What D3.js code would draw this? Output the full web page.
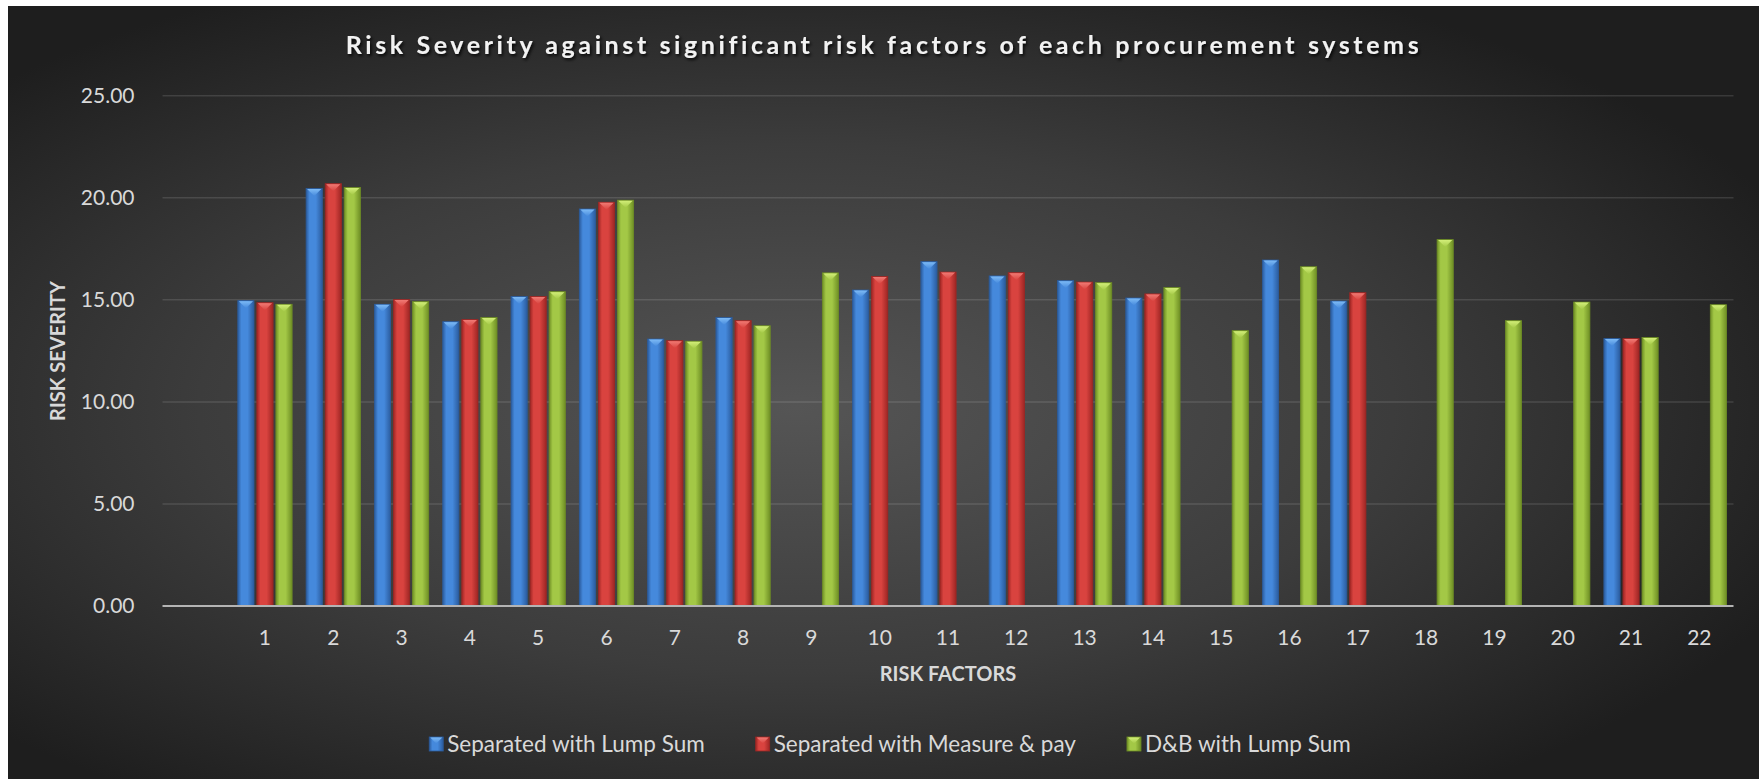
<!DOCTYPE html>
<html>
<head>
<meta charset="utf-8">
<script src="https://cdn.jsdelivr.net/npm/d3@7"></script>
<style>
  html, body { margin: 0; padding: 0; background: #ffffff; }
  svg { display: block; }
  text { font-family: Lato, "Open Sans", "DejaVu Sans", sans-serif; }
</style>
</head>
<body>
<svg id="chart" width="1759" height="779"></svg>
<script>
// Risk factors along the x axis
const riskFactors = ["1","2","3","4","5","6","7","8","9","10","11","12","13","14","15","16","17","18","19","20","21","22"];

// Risk severity per procurement system (null = factor not significant for that system)
const separatedLumpSum = [14.96, 20.45, 14.78, 13.93, 15.16, 19.45, 13.08, 14.13, null, 15.48, 16.87, 16.17, 15.94, 15.09, null, 16.95, 14.94, null, null, null, 13.10, null];
const separatedMeasurePay = [14.86, 20.69, 15.01, 14.03, 15.16, 19.78, 13.00, 13.98, null, 16.14, 16.36, 16.33, 15.87, 15.29, null, null, 15.35, null, null, null, 13.10, null];
const dbLumpSum = [14.78, 20.50, 14.91, 14.13, 15.40, 19.88, 12.97, 13.73, 16.32, null, null, null, 15.84, 15.60, 13.49, 16.62, null, 17.95, 13.98, 14.89, 13.15, 14.76];

const seriesNames = ["Separated with Lump Sum", "Separated with Measure & pay", "D&B with Lump Sum"];
const seriesValues = [separatedLumpSum, separatedMeasurePay, dbLumpSum];
const yTicks = [0, 5, 10, 15, 20, 25];

const chartTitle = "Risk Severity against significant risk factors of each procurement systems";
const yTitle = "RISK SEVERITY";
const xTitle = "RISK FACTORS";

// Palette: [edge, centre, bevel highlight]
const palette = [
  ["#2b5c9e", "#4589dc", "#7dbaf5"],
  ["#9e2624", "#d9433f", "#f07a74"],
  ["#6f8f25", "#a3c846", "#d2ee78"]
];

const W = 1759, H = 779;
const plot = { left: 162.5, right: 1733.5, top: 95.7, bottom: 606 };

const svg = d3.select("#chart");
const defs = svg.append("defs");

// Background vignette
const bg = defs.append("radialGradient").attr("id", "bgGrad")
  .attr("cx", "45%").attr("cy", "52%").attr("r", "62%");
bg.append("stop").attr("offset", "0%").attr("stop-color", "#555555");
bg.append("stop").attr("offset", "55%").attr("stop-color", "#3c3c3c");
bg.append("stop").attr("offset", "100%").attr("stop-color", "#1e1e1e");

// Column shading for each series
palette.forEach((c, i) => {
  const g = defs.append("linearGradient").attr("id", "bar" + i)
    .attr("x1", "0%").attr("x2", "100%").attr("y1", "0%").attr("y2", "0%");
  g.append("stop").attr("offset", "0%").attr("stop-color", c[0]);
  g.append("stop").attr("offset", "22%").attr("stop-color", c[1]);
  g.append("stop").attr("offset", "60%").attr("stop-color", c[1]);
  g.append("stop").attr("offset", "100%").attr("stop-color", c[0]);
  const t = defs.append("linearGradient").attr("id", "cap" + i)
    .attr("x1", "0%").attr("x2", "0%").attr("y1", "0%").attr("y2", "100%");
  t.append("stop").attr("offset", "0%").attr("stop-color", c[2]);
  t.append("stop").attr("offset", "100%").attr("stop-color", c[1]);
});

const shadow = defs.append("filter").attr("id", "titleShadow")
  .attr("x", "-5%").attr("y", "-50%").attr("width", "110%").attr("height", "200%");
shadow.append("feDropShadow").attr("dx", 1.5).attr("dy", 2).attr("stdDeviation", 1.5)
  .attr("flood-color", "#000").attr("flood-opacity", 0.85);

svg.append("rect").attr("x", 8).attr("y", 6).attr("width", W - 8).attr("height", H - 6)
  .attr("fill", "url(#bgGrad)");

// Scales: one empty leading slot before factor 1
const x0 = d3.scaleBand().domain([""].concat(riskFactors))
  .range([plot.left, plot.right]).paddingInner(0.205).paddingOuter(0.1025);
const x1 = d3.scaleBand().domain(d3.range(seriesNames.length))
  .range([0, x0.bandwidth()]).paddingInner(0.15);
const y = d3.scaleLinear().domain([0, 25]).range([plot.bottom, plot.top]);

// Gridlines
svg.append("g").selectAll("line").data(yTicks.filter(d => d > 0)).join("line")
  .attr("x1", plot.left).attr("x2", plot.right)
  .attr("y1", d => y(d)).attr("y2", d => y(d))
  .attr("stroke", "#ffffff").attr("stroke-opacity", 0.12).attr("stroke-width", 1.5);

// Y axis labels
const yAxis = svg.append("g").attr("transform", `translate(${plot.left},0)`)
  .call(d3.axisLeft(y).tickValues(yTicks).tickFormat(d3.format(".2f")).tickSize(0).tickPadding(28));
yAxis.select(".domain").remove();
yAxis.selectAll("text").attr("fill", "#d9d9d9").attr("font-size", 21)
  .style("font-family", "Lato, sans-serif");

// Bars
const bars = [];
riskFactors.forEach((f, i) => {
  seriesValues.forEach((vals, s) => {
    if (vals[i] != null) bars.push({ factor: f, series: s, value: vals[i] });
  });
});

const barG = svg.append("g").selectAll("g").data(bars).join("g");
barG.append("rect")
  .attr("x", d => x0(d.factor) + x1(d.series))
  .attr("y", d => y(d.value))
  .attr("width", x1.bandwidth())
  .attr("height", d => y(0) - y(d.value))
  .attr("fill", d => `url(#bar${d.series})`)
  .attr("stroke", d => palette[d.series][0]).attr("stroke-width", 0.8);
barG.append("path")
  .attr("d", d => {
    const bx = x0(d.factor) + x1(d.series), by = y(d.value), bw = x1.bandwidth();
    return `M${bx + 1},${by + 0.5}L${bx + bw - 1},${by + 0.5}L${bx + bw / 2},${by + 7.5}Z`;
  })
  .attr("fill", d => `url(#cap${d.series})`);

// Baseline
svg.append("line").attr("x1", plot.left).attr("x2", plot.right)
  .attr("y1", y(0)).attr("y2", y(0))
  .attr("stroke", "#b4b4b4").attr("stroke-width", 2.2);

// X axis labels
const xAxis = svg.append("g").attr("transform", `translate(0,${plot.bottom})`)
  .call(d3.axisBottom(x0).tickValues(riskFactors).tickSize(0).tickPadding(24));
xAxis.select(".domain").remove();
xAxis.selectAll("text").attr("fill", "#d9d9d9").attr("font-size", 21)
  .style("font-family", "Lato, sans-serif");

// Titles
svg.append("text").attr("x", 884).attr("y", 54).attr("text-anchor", "middle")
  .attr("fill", "#f2f2f2").attr("font-size", 25).attr("font-weight", 700)
  .attr("letter-spacing", "3.6px").attr("filter", "url(#titleShadow)")
  .text(chartTitle);

svg.append("text").attr("transform", "translate(65,351) rotate(-90)")
  .attr("text-anchor", "middle").attr("fill", "#d9d9d9")
  .attr("font-size", 20).attr("font-weight", 700).text(yTitle);

svg.append("text").attr("x", 948).attr("y", 681).attr("text-anchor", "middle")
  .attr("fill", "#d9d9d9").attr("font-size", 20).attr("font-weight", 700).text(xTitle);

// Legend
const legend = svg.append("g");
const items = legend.selectAll("g").data(seriesNames).join("g");
items.append("rect").attr("width", 14).attr("height", 14).attr("y", -15)
  .attr("fill", (d, i) => `url(#bar${i})`).attr("stroke", (d, i) => palette[i][0]).attr("stroke-width", 0.8);
items.append("path").attr("d", "M1,-14.5L13,-14.5L7,-8.5Z").attr("fill", (d, i) => `url(#cap${i})`);
items.append("text").attr("x", 18).attr("y", 0).attr("fill", "#d9d9d9").attr("font-size", 22.5).text(d => d);
let cursor = 0;
const gap = 51;
items.each(function () {
  const g = d3.select(this);
  g.attr("data-x", cursor);
  const w = 18 + g.select("text").node().getComputedTextLength();
  cursor += w + gap;
});
const total = cursor - gap;
const startX = 890 - total / 2;
items.attr("transform", function () {
  return `translate(${startX + (+this.getAttribute("data-x"))},752)`;
});
</script>
</body>
</html>
